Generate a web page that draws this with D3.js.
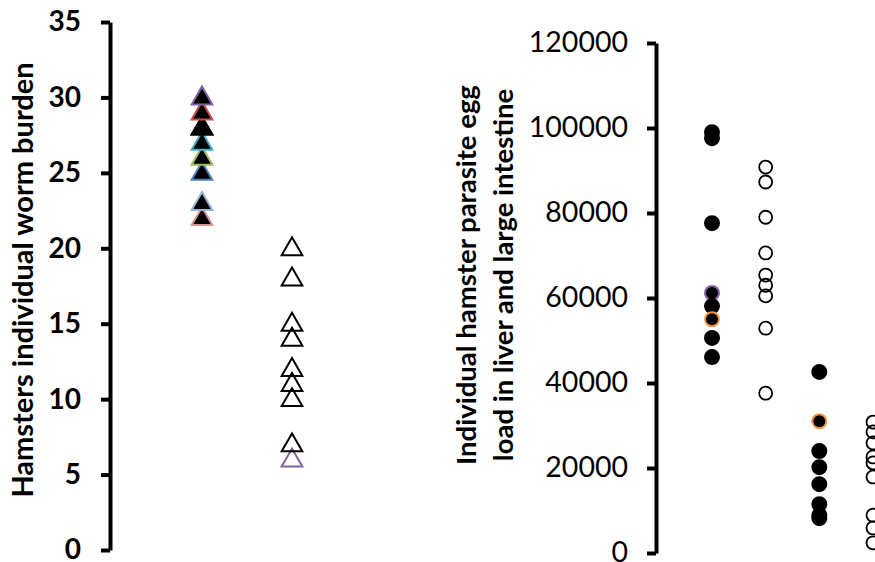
<!DOCTYPE html>
<html>
<head>
<meta charset="utf-8">
<script src="https://cdn.jsdelivr.net/npm/d3@7"></script>
<style>
  body { margin: 0; background: #fff; }
  svg { display: block; }
  text { font-family: Lato, "Open Sans", sans-serif; }
</style>
</head>
<body>
<div id="chart"></div>
<script>
// worm burden per hamster (left panel)
var wormGroups = ['infected', 'treated'];
var wormA = [22, 23, 25, 26, 27, 28, 28, 29, 30];
var wormB = [20, 18, 15, 14, 12, 11, 10, 7, 6];
var wormTicks = [0, 5, 10, 15, 20, 25, 30, 35];

// egg load per hamster (right panel)
var eggGroups = ['A', 'B', 'C', 'D'];
var eggA = [99000, 97600, 77600, 61200, 58100, 55000, 50600, 46100];
var eggB = [90800, 87300, 79000, 70600, 65400, 63000, 60500, 52900, 37600];
var eggC = [42600, 31000, 24000, 20200, 16200, 11500, 8900, 8200];
var eggD = [30800, 28500, 25900, 22600, 21200, 17900, 8900, 5900, 2400];
var eggTicks = [0, 20000, 40000, 60000, 80000, 100000, 120000];

// marker outline colours (styling)
var wormAOutline = ['#d99694', '#95b3d7', '#4f81bd', '#9bbb59', '#4bacc6', '#000', '#000', '#c0504d', '#8064a2'];
var wormBOutline = ['#000', '#000', '#000', '#000', '#000', '#000', '#000', '#000', '#8064a2'];
var eggAOutline = ['#000', '#000', '#000', '#8064a2', '#000', '#f79646', '#000', '#000'];
var eggCOutline = ['#000', '#f79646', '#000', '#000', '#000', '#000', '#000', '#000'];

var width = 875, height = 562;

var svg = d3.select('#chart')
    .append('svg')
    .attr('width', width)
    .attr('height', height);

// ---- left panel ----
var yWorm = d3.scaleLinear().domain([0, 35]).range([550, 22]);
var xWorm = d3.scalePoint().domain(wormGroups).range([202, 292]);

var axL = svg.append('g')
    .attr('transform', 'translate(110,0)')
    .call(d3.axisLeft(yWorm).tickValues(wormTicks).tickSize(9).tickSizeOuter(0).tickPadding(20));
axL.attr('font-family', null);
axL.select('.domain').attr('stroke', '#000').attr('stroke-width', 4);
axL.selectAll('.tick line').attr('stroke', '#000').attr('stroke-width', 4);
axL.selectAll('.tick text')
    .attr('fill', '#000')
    .attr('dy', '0.32em')
    .style('font-size', '28px')
    .style('font-weight', 'bold');

svg.append('text')
    .attr('transform', 'translate(33,280) rotate(-90)')
    .attr('text-anchor', 'middle')
    .style('font-size', '29px')
    .style('font-weight', 'bold')
    .text('Hamsters individual worm burden');

var tri = d3.symbol().type(d3.symbolTriangle).size(185);

function drawTriangles(vals, group, outline, filled) {
    var pts = vals.map(function(v, i) { return {v: v, c: outline[i]}; });
    pts.sort(function(a, b) { return a.v - b.v; });
    svg.append('g').selectAll('path')
        .data(pts)
        .enter()
        .append('path')
        .attr('d', tri)
        .attr('transform', function(d) { return 'translate(' + xWorm(group) + ',' + (yWorm(d.v) + 1) + ')'; })
        .attr('fill', filled ? '#000' : 'none')
        .attr('stroke', function(d) { return d.c; })
        .attr('stroke-width', 2);
}
drawTriangles(wormA, wormGroups[0], wormAOutline, true);
drawTriangles(wormB, wormGroups[1], wormBOutline, false);

// ---- right panel ----
var yEgg = d3.scaleLinear().domain([0, 120000]).range([553, 43]);
var xEgg = d3.scalePoint().domain(eggGroups).range([712, 873]);

var axR = svg.append('g')
    .attr('transform', 'translate(656,0)')
    .call(d3.axisLeft(yEgg).tickValues(eggTicks).tickSize(9).tickSizeOuter(0).tickPadding(19).tickFormat(d3.format('d')));
axR.attr('font-family', null);
axR.select('.domain').attr('stroke', '#000').attr('stroke-width', 4);
axR.selectAll('.tick line').attr('stroke', '#000').attr('stroke-width', 4);
axR.selectAll('.tick text')
    .attr('fill', '#000')
    .attr('dy', '0.3em')
    .style('font-size', '28.5px');

var eggLabel = svg.append('text')
    .attr('transform', 'translate(476,275) rotate(-90)')
    .attr('text-anchor', 'middle')
    .style('font-size', '27.5px')
    .style('font-weight', 'bold');
eggLabel.append('tspan').attr('x', 0).attr('dy', 0).text('Individual hamster parasite egg');
eggLabel.append('tspan').attr('x', 0).attr('dy', 37).text('load in liver and large intestine');

function drawCircles(vals, group, outline, filled) {
    svg.append('g').selectAll('circle')
        .data(vals)
        .enter()
        .append('circle')
        .attr('cx', xEgg(group))
        .attr('cy', function(d) { return yEgg(d); })
        .attr('r', filled ? 7 : 6.5)
        .attr('fill', filled ? '#000' : 'none')
        .attr('stroke', function(d, i) { return outline ? outline[i] : '#000'; })
        .attr('stroke-width', filled ? 2 : 1.8);
}
drawCircles(eggA, 'A', eggAOutline, true);
drawCircles(eggB, 'B', null, false);
drawCircles(eggC, 'C', eggCOutline, true);
drawCircles(eggD, 'D', null, false);
</script>
</body>
</html>
